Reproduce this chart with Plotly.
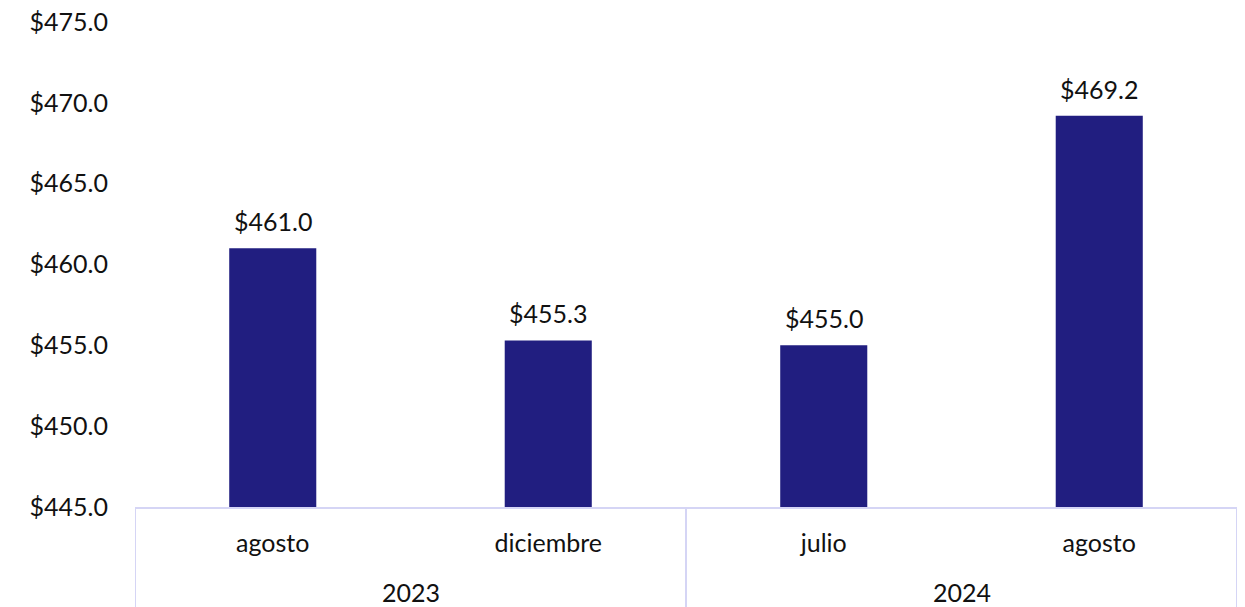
import plotly.graph_objects as go

years = ["2023", "2024"]
months = ["agosto", "diciembre", "julio", "agosto"]
month_year = ["2023", "2023", "2024", "2024"]
values = [461.0, 455.3, 455.0, 469.2]
tick_vals = [445, 450, 455, 460, 465, 470, 475]
tick_text = ["$445.0", "$450.0", "$455.0", "$460.0", "$465.0", "$470.0", "$475.0"]

bar_color = "#211E80"
line_color = "#D5D5F5"
font_family = "Lato, 'Open Sans', sans-serif"
fs = 25

xpos = list(range(len(months)))

fig = go.Figure(go.Bar(
    x=xpos,
    y=values,
    width=0.316,
    marker=dict(color=bar_color, line=dict(width=0)),
    hovertext=[f"{m} {y}" for m, y in zip(months, month_year)],
))

# value labels
for xi, v in zip(xpos, values):
    fig.add_annotation(x=xi, y=v, text=f"${v:.1f}", showarrow=False,
                       xref="x", yref="y", yanchor="bottom", yshift=10,
                       font=dict(size=fs, color="#111111", family=font_family))

# year group labels and dividers
groups = {}
for i, y in enumerate(month_year):
    groups.setdefault(y, []).append(i)
for y in years:
    idx = groups[y]
    fig.add_annotation(x=(idx[0] + idx[-1]) / 2, y=0, xref="x", yref="paper",
                       text=y, showarrow=False, yanchor="middle", yshift=-85,
                       font=dict(size=fs, color="#111111", family=font_family))
bounds = [-0.5] + [groups[y][-1] + 0.5 for y in years]
for b in bounds:
    fig.add_shape(type="line", xref="x", yref="paper", x0=b, x1=b, y0=0, y1=-0.25,
                  line=dict(color=line_color, width=2))

fig.update_layout(
    width=1245, height=607,
    margin=dict(l=127, r=16, t=14, b=108, autoexpand=False),
    paper_bgcolor="white", plot_bgcolor="white",
    showlegend=False,
    font=dict(family=font_family, size=fs, color="#111111"),
)
fig.update_yaxes(
    range=[445, 475], tickvals=tick_vals, ticktext=tick_text,
    showgrid=False, zeroline=False, showline=False, automargin=False,
    ticks="", ticklabelstandoff=26, ticklabeloverflow="allow",
    tickfont=dict(size=fs, color="#111111"),
)
fig.update_xaxes(
    range=[-0.5, 3.5], tickvals=xpos, ticktext=months,
    showline=True, linecolor=line_color, linewidth=2, automargin=False,
    ticks="", showgrid=False, zeroline=False,
    ticklabelstandoff=13, ticklabeloverflow="allow",
    tickfont=dict(size=fs, color="#111111"),
)

fig.write_html("out.html")
